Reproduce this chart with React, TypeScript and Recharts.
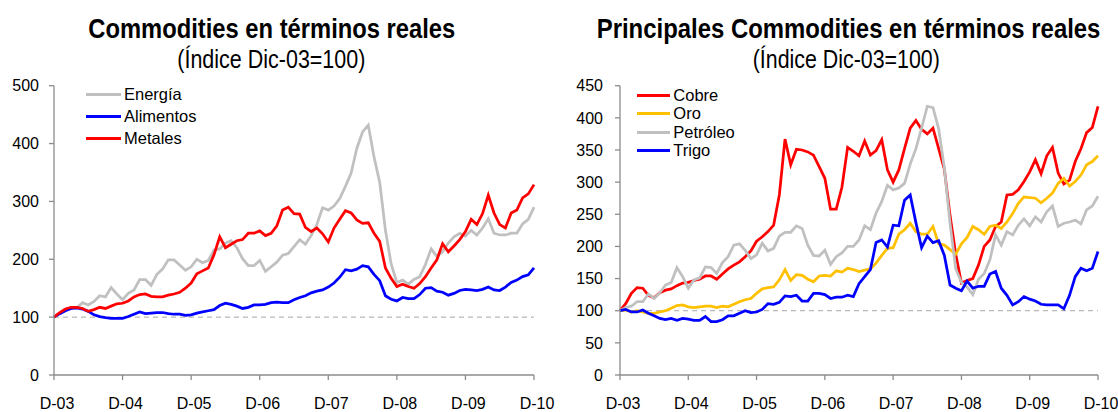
import { LineChart, Line, XAxis, YAxis, ReferenceLine } from "recharts";

// Índice real, Dic-03 = 100, datos mensuales Dic-03 .. Dic-10
const ETIQUETAS_X = ["D-03", "D-04", "D-05", "D-06", "D-07", "D-08", "D-09", "D-10"];
const TICKS_X = [0, 12, 24, 36, 48, 60, 72, 84];
const TICKS_IZQ = [0, 100, 200, 300, 400, 500];
const TICKS_DER = [0, 50, 100, 150, 200, 250, 300, 350, 400, 450];

const ENERGIA = [
  100, 106, 112, 115, 116, 125, 121, 127, 137, 135,
  151, 140, 130, 141, 147, 165, 165, 155, 174, 183,
  199, 199, 190, 181, 187, 200, 194, 198, 216, 218,
  228, 232, 220, 201, 189, 189, 198, 179, 187, 195,
  207, 210, 222, 234, 226, 241, 260, 289, 285, 292,
  305, 326, 349, 392, 420, 432, 377, 333, 250, 192,
  160, 164, 157, 165, 170, 191, 218, 205, 213, 228,
  239, 245, 240, 250, 242, 254, 270, 245, 242, 242,
  245, 245, 261, 269, 290,
];
const ALIMENTOS = [
  100, 106, 111, 115, 116, 114, 110, 104, 101, 99,
  98, 98, 98, 101, 105, 109, 106, 107, 108, 108,
  106, 105, 105, 103, 104, 107, 109, 111, 113, 120,
  124, 122, 119, 115, 117, 121, 121, 122, 125, 126,
  125, 125, 130, 134, 137, 142, 145, 147, 152, 159,
  169, 182, 180, 183, 189, 187, 174, 163, 137, 131,
  128, 134, 132, 132, 139, 150, 151, 145, 143, 138,
  141, 146, 148, 147, 146, 148, 152, 147, 146, 152,
  160, 164, 170, 173, 185,
];
const METALES = [
  100, 108, 114, 117, 117, 115, 110, 113, 117, 115,
  119, 123, 124, 128, 135, 139, 140, 136, 135, 135,
  138, 140, 143, 150, 159, 175, 180, 185, 208, 239,
  220, 226, 232, 234, 245, 245, 249, 241, 245, 258,
  285, 290, 279, 278, 255, 248, 254, 244, 230, 254,
  269, 284, 280, 268, 262, 263, 245, 231, 185, 167,
  153, 157, 153, 150, 158, 170, 185, 199, 227, 213,
  223, 234, 248, 269, 260, 279, 311, 280, 260, 254,
  280, 285, 306, 313, 329,
];

const COBRE = [
  100, 111, 127, 136, 135, 124, 120, 128, 132, 134,
  139, 143, 144, 147, 149, 154, 154, 149, 157, 165,
  171, 176, 184, 193, 208, 215, 223, 233, 280, 367,
  327, 351, 350, 347, 342, 324, 306, 258, 258, 292,
  354, 348, 341, 364, 342, 349, 366, 319, 300, 319,
  352, 384, 396, 382, 375, 384, 352, 320, 248, 188,
  143, 147, 150, 171, 200, 210, 231, 238, 280, 281,
  288, 301, 316, 335, 313, 341, 354, 314, 297, 303,
  332, 352, 377, 385, 418,
];
const ORO = [
  100, 101, 98, 100, 98, 96, 96, 98, 100, 104,
  108, 109, 106, 105, 106, 107, 107, 105, 107, 106,
  110, 114, 117, 119, 127, 134, 136, 137, 148, 164,
  147, 156, 155, 149, 145, 154, 155, 154, 162, 160,
  166, 164, 161, 163, 165, 174, 186, 197, 198, 219,
  226, 236, 223, 219, 219, 231, 204, 202, 195, 188,
  204, 214, 231, 226, 219, 231, 233, 228, 238, 251,
  267, 277, 276, 275, 268, 275, 283, 298, 306, 294,
  301, 311, 327, 332, 341,
];
const PETROLEO = [
  100, 105, 107, 114, 114, 126, 119, 128, 140, 144,
  167, 153, 135, 148, 151, 168, 167, 158, 175, 184,
  202, 204, 194, 181, 187, 205, 193, 197, 216, 222,
  222, 232, 228, 202, 186, 185, 194, 172, 184, 190,
  200, 200, 210, 232, 226, 252, 270, 295, 288, 291,
  298, 328, 352, 384, 418, 416, 383, 322, 236, 165,
  144, 137, 125, 149, 158, 179, 218, 202, 223, 218,
  233, 243, 232, 246, 238, 254, 263, 231, 236, 238,
  241, 235, 257, 263, 278,
];
const TRIGO = [
  100, 102, 98, 98, 101, 96, 92, 88, 86, 88,
  85, 88, 87, 85, 85, 91, 83, 83, 86, 92,
  92, 96, 100, 97, 98, 102, 111, 110, 113, 123,
  122, 124, 115, 115, 127, 127, 125, 119, 121, 121,
  124, 122, 142, 153, 164, 206, 210, 199, 233, 232,
  272, 280, 237, 198, 216, 206, 209, 186, 140, 135,
  131, 146, 135, 138, 138, 157, 161, 135, 124, 109,
  114, 122, 118, 115, 110, 109, 109, 109, 103, 124,
  153, 166, 162, 166, 192,
];

const FONT = '"Liberation Sans", Arial, Helvetica, sans-serif';
const EJE = "#8c8c8c";
const GRIS = "#c0c0c0";
const AZUL = "#0000ff";
const ROJO = "#ff0000";
const AMARILLO = "#ffc000";

const datosIzq = ENERGIA.map((v, i) => ({
  mes: i,
  energia: v,
  alimentos: ALIMENTOS[i],
  metales: METALES[i],
}));
const datosDer = COBRE.map((v, i) => ({
  mes: i,
  cobre: v,
  oro: ORO[i],
  petroleo: PETROLEO[i],
  trigo: TRIGO[i],
}));

type Serie = { key: string; name: string; color: string };

const seriesIzq: Serie[] = [
  { key: "energia", name: "Energía", color: GRIS },
  { key: "alimentos", name: "Alimentos", color: AZUL },
  { key: "metales", name: "Metales", color: ROJO },
];
const seriesDer: Serie[] = [
  { key: "cobre", name: "Cobre", color: ROJO },
  { key: "oro", name: "Oro", color: AMARILLO },
  { key: "petroleo", name: "Petróleo", color: GRIS },
  { key: "trigo", name: "Trigo", color: AZUL },
];

function Leyenda({ series, x, y, paso, largo }: { series: Serie[]; x: number; y: number; paso: number; largo: number }) {
  return (
    <div style={{ position: "absolute", left: x, top: 0, fontFamily: FONT, fontSize: 16.5, color: "#000" }}>
      {series.map((s, i) => (
        <div
          key={s.key}
          style={{ position: "absolute", top: y + i * paso - 10, height: 20, display: "flex", alignItems: "center", whiteSpace: "nowrap" }}
        >
          <div style={{ width: largo, height: 3, background: s.color, marginRight: 3 }} />
          <span>{s.name}</span>
        </div>
      ))}
    </div>
  );
}

// titulo condensado (como Arial Narrow) escalando en horizontal
function Titulo({ x, y, size, bold, sx, children }: { x: number; y: number; size: number; bold?: boolean; sx: number; children: string }) {
  return (
    <text
      transform={`translate(${x} ${y}) scale(${sx} 1)`}
      fontFamily={FONT}
      fontSize={size}
      fontWeight={bold ? "bold" : "normal"}
      fill="#000"
    >
      {children}
    </text>
  );
}

function Panel({
  data,
  series,
  width,
  yMax,
  yTicks,
  yWidth,
  yMargin,
  right,
}: {
  data: any[];
  series: Serie[];
  width: number;
  yMax: number;
  yTicks: number[];
  yWidth: number;
  yMargin: number;
  right: number;
}) {
  const tick = { fill: "#000", fontSize: 16, fontFamily: FONT };
  return (
    <LineChart width={width} height={412} data={data} margin={{ top: 85.7, right, bottom: 7, left: 0 }}>
      <XAxis
        dataKey="mes"
        type="number"
        domain={[0, 84]}
        ticks={TICKS_X}
        tickFormatter={(v: number) => ETIQUETAS_X[Math.round(v / 12)]}
        height={30}
        tickSize={5}
        tickMargin={18}
        dx={3}
        tick={tick}
        axisLine={{ stroke: EJE, strokeWidth: 1.3 }}
        tickLine={{ stroke: EJE, strokeWidth: 1.3 }}
        allowDecimals={false}
      />
      <YAxis
        type="number"
        domain={[0, yMax]}
        ticks={yTicks}
        width={yWidth}
        tickSize={5}
        tickMargin={yMargin}
        tick={tick}
        axisLine={{ stroke: EJE, strokeWidth: 1.3 }}
        tickLine={{ stroke: EJE, strokeWidth: 1.3 }}
      />
      <ReferenceLine y={100} stroke="#a6a6a6" strokeWidth={1} strokeDasharray="5 4" />
      {series.map((s) => (
        <Line
          key={s.key}
          type="linear"
          dataKey={s.key}
          name={s.name}
          stroke={s.color}
          strokeWidth={2.75}
          dot={false}
          activeDot={false}
          isAnimationActive={false}
        />
      ))}
    </LineChart>
  );
}

export default function App() {
  return (
    <div style={{ position: "absolute", left: 0, top: 0, width: 1118, height: 412, background: "#fff", fontFamily: FONT }}>
      <div style={{ position: "absolute", left: 0, top: 0 }}>
        <Panel data={datosIzq} series={seriesIzq} width={560} yMax={500} yTicks={TICKS_IZQ} yWidth={54} yMargin={10} right={26} />
      </div>
      <div style={{ position: "absolute", left: 560, top: 0 }}>
        <Panel data={datosDer} series={seriesDer} width={558} yMax={450} yTicks={TICKS_DER} yWidth={60} yMargin={12} right={20} />
      </div>
      <svg width={1118} height={80} style={{ position: "absolute", left: 0, top: 0, pointerEvents: "none" }}>
        <Titulo x={88.3} y={37.5} size={27} bold sx={0.88}>
          Commodities en términos reales
        </Titulo>
        <Titulo x={177.3} y={68} size={25} sx={0.86}>
          (Índice Dic-03=100)
        </Titulo>
        <Titulo x={596.7} y={37.5} size={27} bold sx={0.886}>
          Principales Commodities en términos reales
        </Titulo>
        <Titulo x={752.7} y={68} size={25} sx={0.855}>
          (Índice Dic-03=100)
        </Titulo>
      </svg>
      <Leyenda series={seriesIzq} x={86} y={94.3} paso={22.3} largo={35} />
      <Leyenda series={seriesDer} x={637.3} y={95} paso={18.6} largo={33} />
    </div>
  );
}
